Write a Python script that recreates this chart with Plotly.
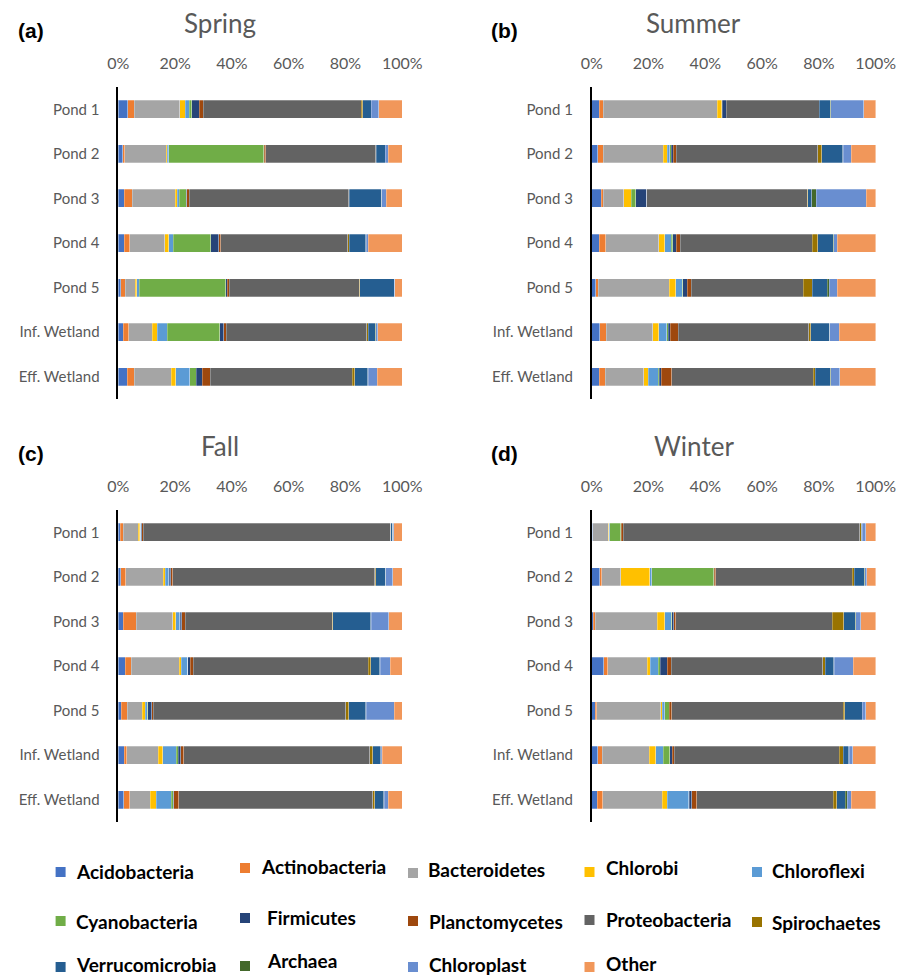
import plotly.graph_objects as go

# Sampling sites (top to bottom) and phyla (stacking order, left to right)
sites = ["Pond 1", "Pond 2", "Pond 3", "Pond 4", "Pond 5", "Inf. Wetland", "Eff. Wetland"]
phyla = ["Acidobacteria", "Actinobacteria", "Bacteroidetes", "Chlorobi", "Chloroflexi",
         "Cyanobacteria", "Firmicutes", "Planctomycetes", "Proteobacteria", "Spirochaetes",
         "Verrucomicrobia", "Archaea", "Chloroplast", "Other"]
phylum_colors = ["#4472C4", "#ED7D31", "#A5A5A5", "#FFC000", "#5B9BD5",
                 "#70AD47", "#264478", "#9E480E", "#636363", "#997300",
                 "#255E91", "#43682B", "#698ED0", "#F1975A"]

# Relative abundance (%) per site; columns follow the order of `phyla`
spring = [
    [3.3, 2.3, 16.1, 1.8, 1.5, 0.8, 2.7, 1.4, 55.5, 0.5, 3.0, 0.1, 2.6, 8.3],
    [1.5, 0.8, 14.7, 0.3, 0.5, 33.5, 0.2, 0.6, 38.8, 0.1, 3.1, 0.1, 1.1, 4.9],
    [2.1, 2.8, 15.1, 0.7, 0.7, 2.6, 0.1, 0.9, 56.3, 0.1, 11.4, 0.1, 1.6, 5.6],
    [2.1, 2.0, 12.3, 1.4, 1.6, 13.1, 2.8, 0.8, 44.7, 0.5, 5.9, 0.1, 0.7, 12.0],
    [0.8, 1.6, 3.5, 0.6, 0.9, 30.5, 0.5, 0.7, 45.7, 0.3, 12.0, 0.1, 0.2, 2.6],
    [1.8, 1.8, 8.3, 1.8, 3.6, 18.5, 1.4, 0.9, 49.5, 0.5, 2.5, 0.1, 0.8, 8.6],
    [3.1, 2.5, 13.1, 1.5, 5.0, 2.3, 2.0, 2.8, 50.0, 0.9, 4.7, 0.1, 3.1, 8.9],
]
summer = [
    [2.7, 1.4, 40.2, 1.5, 0.2, 0.1, 1.3, 0.1, 32.7, 0.1, 3.9, 0.1, 11.6, 4.3],
    [2.1, 2.0, 21.1, 1.5, 0.8, 0.6, 0.6, 1.1, 49.8, 1.4, 7.5, 0.1, 2.9, 8.6],
    [3.3, 0.8, 7.2, 2.6, 0.1, 1.5, 3.9, 0.1, 56.7, 0.1, 1.5, 1.5, 17.7, 3.3],
    [2.7, 2.2, 18.8, 2.1, 2.2, 0.5, 1.3, 1.4, 46.5, 2.0, 5.4, 0.2, 1.2, 13.6],
    [1.4, 0.9, 24.9, 2.3, 2.3, 0.2, 1.6, 1.4, 39.4, 3.2, 5.3, 0.6, 2.8, 13.6],
    [2.8, 2.3, 16.4, 2.1, 2.8, 0.6, 0.6, 2.8, 46.1, 0.6, 6.7, 0.1, 3.3, 12.8],
    [2.6, 2.2, 13.6, 1.6, 3.4, 0.5, 0.6, 3.8, 49.8, 0.8, 5.2, 0.2, 3.3, 12.6],
]
fall = [
    [0.6, 1.2, 5.3, 0.5, 0.3, 0.1, 0.3, 0.5, 87.5, 0.1, 0.6, 0.1, 0.2, 3.1],
    [0.9, 1.8, 13.1, 0.8, 1.2, 0.2, 0.5, 0.7, 71.1, 0.3, 3.5, 0.1, 2.5, 3.3],
    [1.8, 4.6, 12.8, 1.1, 1.3, 0.2, 0.5, 1.3, 51.8, 0.3, 13.4, 0.1, 6.3, 4.7],
    [2.5, 2.1, 16.9, 0.7, 2.2, 0.1, 0.8, 1.1, 61.6, 0.9, 3.1, 0.2, 3.6, 4.2],
    [1.1, 2.1, 5.2, 1.1, 0.8, 0.1, 1.5, 0.5, 68.0, 0.9, 6.1, 0.1, 10.0, 2.8],
    [2.1, 0.8, 11.2, 1.5, 4.8, 0.8, 0.8, 1.1, 65.5, 1.1, 2.8, 0.1, 0.5, 7.0],
    [2.0, 2.1, 7.2, 2.1, 5.3, 0.7, 0.1, 1.8, 68.5, 0.7, 3.2, 0.1, 1.4, 5.0],
]
winter = [
    [0.3, 0.1, 5.5, 0.1, 0.3, 4.0, 0.1, 0.8, 83.5, 0.5, 0.2, 0.1, 1.2, 3.6],
    [2.9, 0.6, 6.8, 10.2, 0.7, 21.9, 0.1, 0.6, 48.0, 0.8, 3.5, 0.1, 0.8, 3.1],
    [0.6, 0.7, 21.8, 2.7, 2.3, 0.1, 0.8, 0.7, 55.0, 4.1, 4.1, 0.1, 1.9, 5.2],
    [4.3, 1.4, 13.8, 1.1, 2.8, 0.7, 2.5, 1.4, 53.5, 0.8, 3.1, 0.1, 6.6, 8.0],
    [1.3, 0.5, 22.5, 0.6, 0.8, 1.6, 0.1, 0.8, 60.4, 0.6, 6.1, 0.1, 1.2, 3.5],
    [2.1, 1.6, 16.5, 2.3, 2.7, 2.2, 0.9, 0.7, 58.0, 1.5, 2.0, 0.1, 1.3, 8.0],
    [1.9, 2.0, 20.9, 1.8, 7.6, 0.1, 0.9, 1.8, 48.2, 1.2, 2.9, 0.8, 1.4, 8.6],
]

season_titles = ["Spring", "Summer", "Fall", "Winter"]
panel_tags = ["(a)", "(b)", "(c)", "(d)"]
x_ticks = [0, 20, 40, 60, 80, 100]

W, H = 909, 978
GRAY = "#595959"
BASE_FONT = "Lato, 'Open Sans', sans-serif"


def fx(px):
    return px / W


def fy(px):
    return 1 - px / H


# Panel geometry in pixels: left edge of the plotting area and its top
panel_left = [118.3, 591.7, 118.3, 591.7]
panel_top = [87.0, 87.0, 510.0, 510.0]
panel_width = 284.0
panel_height = 312.0

fig = go.Figure()
layout_axes = {}
annotations = []
shapes = []

for i, (table, title, tag) in enumerate(zip([spring, summer, fall, winter], season_titles, panel_tags)):
    n = i + 1
    xname = "x" if n == 1 else f"x{n}"
    yname = "y" if n == 1 else f"y{n}"
    for j, (phylum, color) in enumerate(zip(phyla, phylum_colors)):
        fig.add_trace(go.Bar(
            y=sites,
            x=[row[j] for row in table],
            orientation="h",
            name=phylum,
            marker=dict(color=color, line=dict(color="rgba(255,255,255,0.45)", width=0.6)),
            xaxis=xname, yaxis=yname,
            showlegend=False,
            hovertemplate=phylum + "<br>%{y}: %{x:.1f}%<extra></extra>",
        ))

    x0, top = panel_left[i], panel_top[i]
    layout_axes["xaxis" if n == 1 else f"xaxis{n}"] = dict(
        domain=[fx(x0), fx(x0 + panel_width)],
        anchor=yname, side="top", range=[0, 100],
        tickvals=x_ticks, ticktext=[f"{t}%" for t in x_ticks],
        showgrid=False, zeroline=False, showline=False, ticks="",
        ticklabelstandoff=14, automargin=False,
        tickfont=dict(family=BASE_FONT, size=16, color=GRAY),
        fixedrange=True,
    )
    layout_axes["yaxis" if n == 1 else f"yaxis{n}"] = dict(
        domain=[fy(top + panel_height), fy(top)],
        anchor=xname, type="category",
        categoryorder="array", categoryarray=sites,
        autorange="reversed",
        showgrid=False, zeroline=False,
        showline=True, linecolor="black", linewidth=1.5,
        ticks="", ticklabelstandoff=14, automargin=False,
        tickfont=dict(family=BASE_FONT, size=15, color=GRAY),
        fixedrange=True,
    )

    annotations.append(dict(
        x=fx(x0 + 102), y=fy(top - 64), xref="paper", yref="paper",
        text=title, showarrow=False, xanchor="center", yanchor="middle",
        font=dict(family=BASE_FONT, size=26, color=GRAY),
    ))
    annotations.append(dict(
        x=fx(x0 - 87), y=fy(top - 57), xref="paper", yref="paper",
        text=f"<b>{tag}</b>", showarrow=False, xanchor="center", yanchor="middle",
        font=dict(family="Liberation Sans, Arial, sans-serif", size=21, color="black"),
    ))

# Legend: five columns, three rows of swatch + bold label
legend_cols = [60.6, 245.0, 413.0, 589.5, 757.0]
swatch_y = [872, 868, 873, 872, 872,
            921, 918, 921, 920, 922,
            967, 966, 967, 967]
label_y = [871, 866, 869, 867, 870,
           921, 917, 921, 919, 922,
           964, 960, 964, 963]
label_gap = [13, 14, 13, 14, 13,
             13, 20, 14, 14, 13,
             13, 20, 14, 14]
for k, (phylum, color) in enumerate(zip(phyla, phylum_colors)):
    c = k % 5
    cx = legend_cols[c]
    shapes.append(dict(
        type="rect", xref="paper", yref="paper",
        x0=fx(cx - 5), x1=fx(cx + 5), y0=fy(swatch_y[k] + 5), y1=fy(swatch_y[k] - 5),
        fillcolor=color, line=dict(width=0),
    ))
    annotations.append(dict(
        x=fx(cx + label_gap[k]), y=fy(label_y[k]), xref="paper", yref="paper",
        text=f"<b>{phylum}</b>", showarrow=False, xanchor="left", yanchor="middle",
        font=dict(family=BASE_FONT, size=19, color="black"),
    ))

fig.update_layout(
    width=W, height=H,
    margin=dict(l=0, r=0, t=0, b=0, autoexpand=False),
    paper_bgcolor="white", plot_bgcolor="white",
    barmode="stack", barnorm="percent", bargap=0.596,
    showlegend=False,
    annotations=annotations, shapes=shapes,
    **layout_axes,
)

fig.write_html("out.html")
